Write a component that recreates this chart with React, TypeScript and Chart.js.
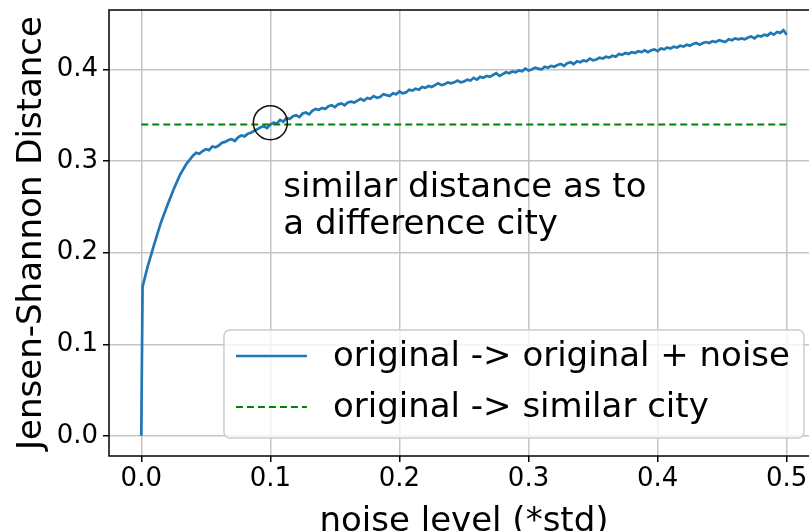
import React, { useEffect, useRef } from 'react';
import { Chart, registerables } from 'chart.js';

Chart.register(...registerables);

// ---- data ----
const noiseLevels = [
  0, 0.001, 0.005, 0.01, 0.015, 0.02, 0.025, 0.03, 0.035,
  0.04, 0.0425, 0.045, 0.0475, 0.05, 0.0525, 0.055, 0.0575, 0.06, 0.0625,
  0.065, 0.0675, 0.07, 0.0725, 0.075, 0.0775, 0.08, 0.0825, 0.085, 0.0875,
  0.09, 0.0925, 0.095, 0.0975, 0.1, 0.1025, 0.105, 0.1075, 0.11, 0.1125,
  0.115, 0.1175, 0.12, 0.1225, 0.125, 0.1275, 0.13, 0.1325, 0.135, 0.1375,
  0.14, 0.1425, 0.145, 0.1475, 0.15, 0.1525, 0.155, 0.1575, 0.16, 0.1625,
  0.165, 0.1675, 0.17, 0.1725, 0.175, 0.1775, 0.18, 0.1825, 0.185, 0.1875,
  0.19, 0.1925, 0.195, 0.1975, 0.2, 0.2025, 0.205, 0.2075, 0.21, 0.2125,
  0.215, 0.2175, 0.22, 0.2225, 0.225, 0.2275, 0.23, 0.2325, 0.235, 0.2375,
  0.24, 0.2425, 0.245, 0.2475, 0.25, 0.2525, 0.255, 0.2575, 0.26, 0.2625,
  0.265, 0.2675, 0.27, 0.2725, 0.275, 0.2775, 0.28, 0.2825, 0.285, 0.2875,
  0.29, 0.2925, 0.295, 0.2975, 0.3, 0.3025, 0.305, 0.3075, 0.31, 0.3125,
  0.315, 0.3175, 0.32, 0.3225, 0.325, 0.3275, 0.33, 0.3325, 0.335, 0.3375,
  0.34, 0.3425, 0.345, 0.3475, 0.35, 0.3525, 0.355, 0.3575, 0.36, 0.3625,
  0.365, 0.3675, 0.37, 0.3725, 0.375, 0.3775, 0.38, 0.3825, 0.385, 0.3875,
  0.39, 0.3925, 0.395, 0.3975, 0.4, 0.4025, 0.405, 0.4075, 0.41, 0.4125,
  0.415, 0.4175, 0.42, 0.4225, 0.425, 0.4275, 0.43, 0.4325, 0.435, 0.4375,
  0.44, 0.4425, 0.445, 0.4475, 0.45, 0.4525, 0.455, 0.4575, 0.46, 0.4625,
  0.465, 0.4675, 0.47, 0.4725, 0.475, 0.4775, 0.48, 0.4825, 0.485, 0.4875,
  0.49, 0.4925, 0.495, 0.4975, 0.5,
];

const jsDistances = [
  0.0, 0.163, 0.185, 0.209, 0.232, 0.251, 0.269, 0.285, 0.297,
  0.306, 0.309, 0.308, 0.311, 0.313, 0.312, 0.316, 0.315, 0.317, 0.32,
  0.321, 0.323, 0.324, 0.322, 0.326, 0.328, 0.327, 0.33, 0.331, 0.333,
  0.335, 0.337, 0.338, 0.336, 0.34, 0.342, 0.341, 0.345, 0.343, 0.347,
  0.346, 0.349, 0.35, 0.348, 0.352, 0.353, 0.351, 0.355, 0.357, 0.356,
  0.358, 0.357, 0.36, 0.361, 0.359, 0.362, 0.363, 0.361, 0.364, 0.365,
  0.364, 0.366, 0.368, 0.366, 0.369, 0.368, 0.371, 0.369, 0.37, 0.373,
  0.372, 0.371, 0.374, 0.373, 0.376, 0.374, 0.375, 0.378, 0.377, 0.379,
  0.378, 0.381, 0.38, 0.382, 0.381, 0.383, 0.385, 0.383, 0.384, 0.386,
  0.385, 0.386, 0.388, 0.386, 0.387, 0.389, 0.388, 0.391, 0.389, 0.392,
  0.391, 0.393, 0.392, 0.394, 0.396, 0.393, 0.395, 0.397, 0.396, 0.398,
  0.397, 0.399, 0.398, 0.401, 0.399, 0.4, 0.402, 0.401, 0.4, 0.403,
  0.402, 0.404, 0.403, 0.405, 0.406, 0.404, 0.407, 0.408, 0.406, 0.409,
  0.408, 0.41, 0.409, 0.412, 0.41, 0.411, 0.413, 0.412, 0.414, 0.413,
  0.415, 0.414, 0.417, 0.416, 0.418, 0.417, 0.419, 0.418, 0.42, 0.419,
  0.421, 0.419, 0.421, 0.422, 0.42, 0.423, 0.422, 0.424, 0.423, 0.425,
  0.424, 0.426, 0.425, 0.427, 0.426, 0.428, 0.429, 0.427, 0.429, 0.43,
  0.429, 0.431, 0.43, 0.432, 0.431, 0.43, 0.433, 0.432, 0.434, 0.433,
  0.434, 0.433, 0.435, 0.436, 0.434, 0.437, 0.436, 0.438, 0.437, 0.44,
  0.438, 0.441, 0.44, 0.443, 0.438,
];

const similarCityX = [0, 0.5];
const similarCityDistance = 0.34;
const markedPoint = [{ x: 0.1, y: 0.342 }];

const xTicks = [0, 0.1, 0.2, 0.3, 0.4, 0.5];
const yTicks = [0, 0.1, 0.2, 0.3, 0.4];
const xRange = [-0.025, 0.525];
const yRange = [-0.022, 0.465];

const seriesLabels = ['original -> original + noise', 'original -> similar city'];
const annotationLines = ['similar distance as to', 'a difference city'];
const xTitle = 'noise level (*std)';
const yTitle = 'Jensen-Shannon Distance';

// ---- styles ----
const FONT = '"DejaVu Sans", sans-serif';
const BLUE = '#1f77b4';
const GREEN = '#008000';
const GRID = '#c4c4c4';
const CANVAS_W = 830;
const CANVAS_H = 545;

const overlayPlugin = {
  id: 'overlay',
  afterDatasetsDraw(chart: any) {
    const { ctx, chartArea: a, scales } = chart;
    const xs = scales.x;
    const ys = scales.y;
    ctx.save();

    // annotation text
    ctx.font = `34px ${FONT}`;
    ctx.fillStyle = '#000';
    ctx.textAlign = 'left';
    ctx.textBaseline = 'alphabetic';
    const tx = xs.getPixelForValue(0.11);
    const ty = ys.getPixelForValue(0.261);
    annotationLines.forEach((line, i) => ctx.fillText(line, tx, ty + i * 37.3));

    // spines
    ctx.strokeStyle = '#000';
    ctx.lineWidth = 1.5;
    ctx.strokeRect(a.left, a.top, a.right - a.left, a.bottom - a.top);

    // legend
    ctx.font = `34px ${FONT}`;
    const textW = Math.max(...seriesLabels.map((l) => ctx.measureText(l).width));
    const padL = 12, sampleW = 71, gap = 26, padR = 14;
    const boxR = a.right - 15;
    const boxB = a.bottom - 18;
    const boxT = boxB - 108;
    const boxL = boxR - (padL + sampleW + gap + textW + padR);
    ctx.beginPath();
    (ctx as any).roundRect(boxL, boxT, boxR - boxL, boxB - boxT, 6);
    ctx.fillStyle = 'rgba(255,255,255,0.8)';
    ctx.fill();
    ctx.strokeStyle = '#cccccc';
    ctx.lineWidth = 1.5;
    ctx.stroke();

    const rows = [boxT + 27, boxT + 78];
    const ds = chart.data.datasets;
    seriesLabels.forEach((label, i) => {
      const d = ds[i];
      const ry = rows[i];
      ctx.beginPath();
      ctx.strokeStyle = d.borderColor;
      ctx.lineWidth = d.borderWidth;
      ctx.setLineDash(d.borderDash || []);
      ctx.moveTo(boxL + padL, ry - 1);
      ctx.lineTo(boxL + padL + sampleW, ry - 1);
      ctx.stroke();
      ctx.setLineDash([]);
      ctx.fillStyle = '#000';
      ctx.textBaseline = 'middle';
      ctx.fillText(label, boxL + padL + sampleW + gap, ry);
    });

    ctx.restore();
  },
};

export default function App() {
  const canvasRef = useRef<HTMLCanvasElement | null>(null);

  useEffect(() => {
    const canvas = canvasRef.current;
    if (!canvas) return;
    Chart.defaults.font.family = FONT;
    Chart.defaults.color = '#000';

    const chart = new Chart(canvas, {
      type: 'line',
      data: {
        datasets: [
          {
            label: seriesLabels[0],
            data: noiseLevels.map((x, i) => ({ x, y: jsDistances[i] })),
            borderColor: BLUE,
            borderWidth: 2.7,
            pointRadius: 0,
            tension: 0,
            fill: false,
            order: 2,
          },
          {
            label: seriesLabels[1],
            data: similarCityX.map((x) => ({ x, y: similarCityDistance })),
            borderColor: GREEN,
            borderWidth: 2.2,
            borderDash: [7, 4],
            pointRadius: 0,
            fill: false,
            order: 1,
          },
          {
            label: 'marker',
            data: markedPoint,
            showLine: false,
            pointRadius: 17,
            pointBorderColor: '#111',
            pointBackgroundColor: 'rgba(0,0,0,0)',
            pointBorderWidth: 1.5,
            borderColor: '#111',
            order: 0,
          },
        ],
      } as any,
      options: {
        animation: false,
        responsive: false,
        devicePixelRatio: 1,
        events: [],
        layout: {
          autoPadding: false,
          padding: { left: 0, top: 10, right: CANVAS_W - 819, bottom: 0 },
        },
        plugins: {
          legend: { display: false },
          tooltip: { enabled: false },
        },
        scales: {
          x: {
            type: 'linear',
            min: xRange[0],
            max: xRange[1],
            afterBuildTicks: (s: any) => {
              s.ticks = xTicks.map((v) => ({ value: v }));
            },
            afterFit: (s: any) => {
              s.height = CANVAS_H - 456;
              s.paddingLeft = 0;
              s.paddingRight = 0;
            },
            ticks: {
              font: { size: 26 },
              color: '#000',
              padding: 2,
              maxRotation: 0,
              autoSkip: false,
              callback: (v: any) => Number(v).toFixed(1),
            },
            grid: {
              color: GRID,
              lineWidth: 1.5,
              tickLength: 6,
              tickColor: '#000',
              tickWidth: 1.5,
            },
            border: { display: false },
            title: {
              display: true,
              text: xTitle,
              font: { size: 34, lineHeight: 1 },
              color: '#000',
              padding: { top: 0, bottom: 6 },
            },
          },
          y: {
            type: 'linear',
            min: yRange[0],
            max: yRange[1],
            afterBuildTicks: (s: any) => {
              s.ticks = yTicks.map((v) => ({ value: v }));
            },
            afterFit: (s: any) => {
              s.width = 109;
              s.paddingTop = 0;
              s.paddingBottom = 0;
            },
            ticks: {
              font: { size: 26 },
              color: '#000',
              padding: 5,
              autoSkip: false,
              callback: (v: any) => Number(v).toFixed(1),
            },
            grid: {
              color: GRID,
              lineWidth: 1.5,
              tickLength: 6,
              tickColor: '#000',
              tickWidth: 1.5,
            },
            border: { display: false },
            title: {
              display: true,
              text: yTitle,
              font: { size: 34, lineHeight: 1 },
              color: '#000',
              padding: { top: 15, bottom: 0 },
            },
          },
        },
      } as any,
      plugins: [overlayPlugin],
    });

    return () => chart.destroy();
  }, []);

  return (
    <div
      style={{
        position: 'fixed',
        left: 0,
        top: 0,
        width: 809,
        height: 531,
        overflow: 'hidden',
        background: '#fff',
      }}
    >
      <canvas ref={canvasRef} width={CANVAS_W} height={CANVAS_H} style={{ display: 'block' }} />
    </div>
  );
}
